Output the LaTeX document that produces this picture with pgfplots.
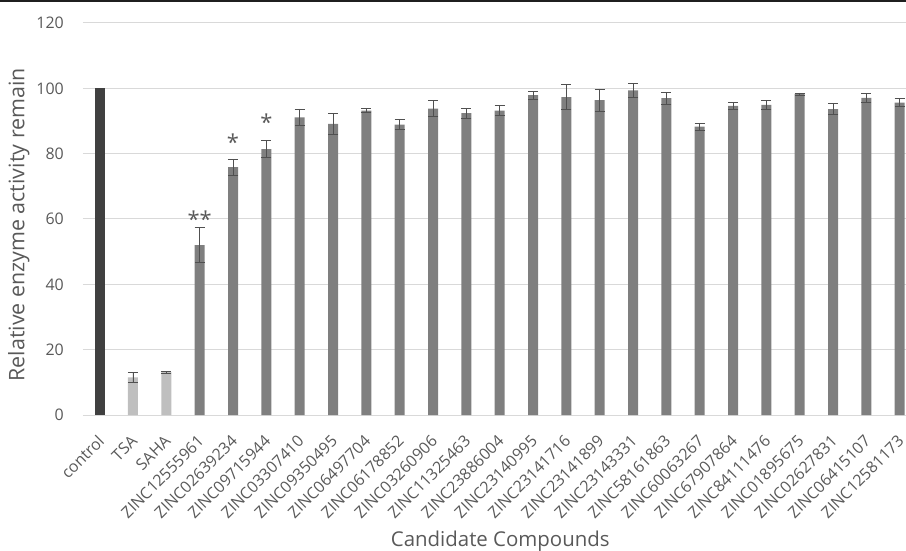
\documentclass[border=0pt]{standalone}
\usepackage{fontspec}
\setmainfont{Open Sans}
\usepackage{pgfplots}
\usepackage{pgfplotstable}
\pgfplotsset{compat=1.18}
\definecolor{ctrlc}{HTML}{404040}
\definecolor{refc}{HTML}{BFBFBF}
\definecolor{candc}{HTML}{7F7F7F}
\definecolor{gridc}{HTML}{D9D9D9}
\definecolor{txtc}{HTML}{595959}
\definecolor{errc}{HTML}{505050}

\pgfplotstableread{
x y e
0 100 0
}\ctrl
\pgfplotstableread{
x y e
1 11.5 1.5
2 13.1 0.3
}\refs
\pgfplotstableread{
x y e
3 52.0 5.3
4 75.9 2.4
5 81.4 2.6
6 91.1 2.6
7 89.1 3.2
8 93.2 0.7
9 88.9 1.6
10 93.8 2.5
11 92.4 1.5
12 93.2 1.5
13 97.9 1.2
14 97.3 3.9
15 96.4 3.4
16 99.4 2.1
17 97.0 1.8
18 88.3 1.1
19 94.6 1.2
20 94.9 1.5
21 98.2 0.4
22 93.6 1.7
23 97.1 1.3
24 95.6 1.2
}\cand

\begin{document}
\begin{tikzpicture}
\useasboundingbox (-83bp,-136bp) rectangle (823bp,415bp);
\fill[black!88] (-83bp,413bp) rectangle (823bp,415bp);
\begin{axis}[
  at={(0,0)}, anchor=south west,
  scale only axis, width=823bp, height=392bp,
  xmin=-0.5, xmax=24.19, ymin=0, ymax=120,
  ytick={0,20,...,120},
  xtick={0,...,24},
  xticklabels={control,TSA,SAHA,ZINC12555961,ZINC02639234,ZINC09715944,ZINC03307410,ZINC09350495,ZINC06497704,ZINC06178852,ZINC03260906,ZINC11325463,ZINC23886004,ZINC23140995,ZINC23141716,ZINC23141899,ZINC23143331,ZINC58161863,ZINC60063267,ZINC67907864,ZINC84111476,ZINC01895675,ZINC02627831,ZINC06415107,ZINC12581173},
  axis line style={draw=none},
  major tick length=0pt,
  ymajorgrids, grid style={gridc, line width=1bp},
  /pgf/number format/assume math mode=true,
  yticklabel style={font=\fontsize{16}{19}\selectfont, text=txtc, inner sep=0pt, anchor=east, xshift=-19bp},
  xticklabel style={font=\fontsize{16}{19}\selectfont, text=txtc, inner sep=0pt, xshift=-3bp, yshift=-19bp, rotate=45, anchor=north east},
  ylabel={Relative enzyme activity remain},
  xlabel={Candidate Compounds},
  every axis y label/.style={at={(axis description cs:-0.078,0.485)}, rotate=90, anchor=center, font=\fontsize{21.5}{25}\selectfont, text=txtc},
  every axis x label/.style={at={(axis description cs:0.507,-0.321)}, anchor=center, font=\fontsize{20.5}{24}\selectfont, text=txtc},
  ybar, bar width=10bp,
  clip=false,
]
\addplot[fill=ctrlc, draw=none, bar shift=0pt] table[x=x,y=y] {\ctrl};
\addplot[fill=refc, draw=none, bar shift=0pt,
  error bars/.cd, y dir=both, y explicit,
  error bar style={errc, line width=0.8bp},
  error mark options={rotate=90, mark size=5bp, errc, line width=0.8bp}]
  table[x=x,y=y,y error=e] {\refs};
\addplot[fill=candc, draw=none, bar shift=0pt,
  error bars/.cd, y dir=both, y explicit,
  error bar style={errc, line width=0.8bp},
  error mark options={rotate=90, mark size=5bp, errc, line width=0.8bp}]
  table[x=x,y=y,y error=e] {\cand};
\addplot[draw=none, fill=none, mark=none, bar shift=0pt, bar width=0pt, nodes near coords, point meta=explicit symbolic,
  every node near coord/.append style={anchor=center, font=\fontsize{22}{26}\selectfont, text=txtc, inner sep=0pt}]
  coordinates {(3,60) [**] (4,83.5) [*] (5,89.5) [*]};
\end{axis}
\end{tikzpicture}
\end{document}
